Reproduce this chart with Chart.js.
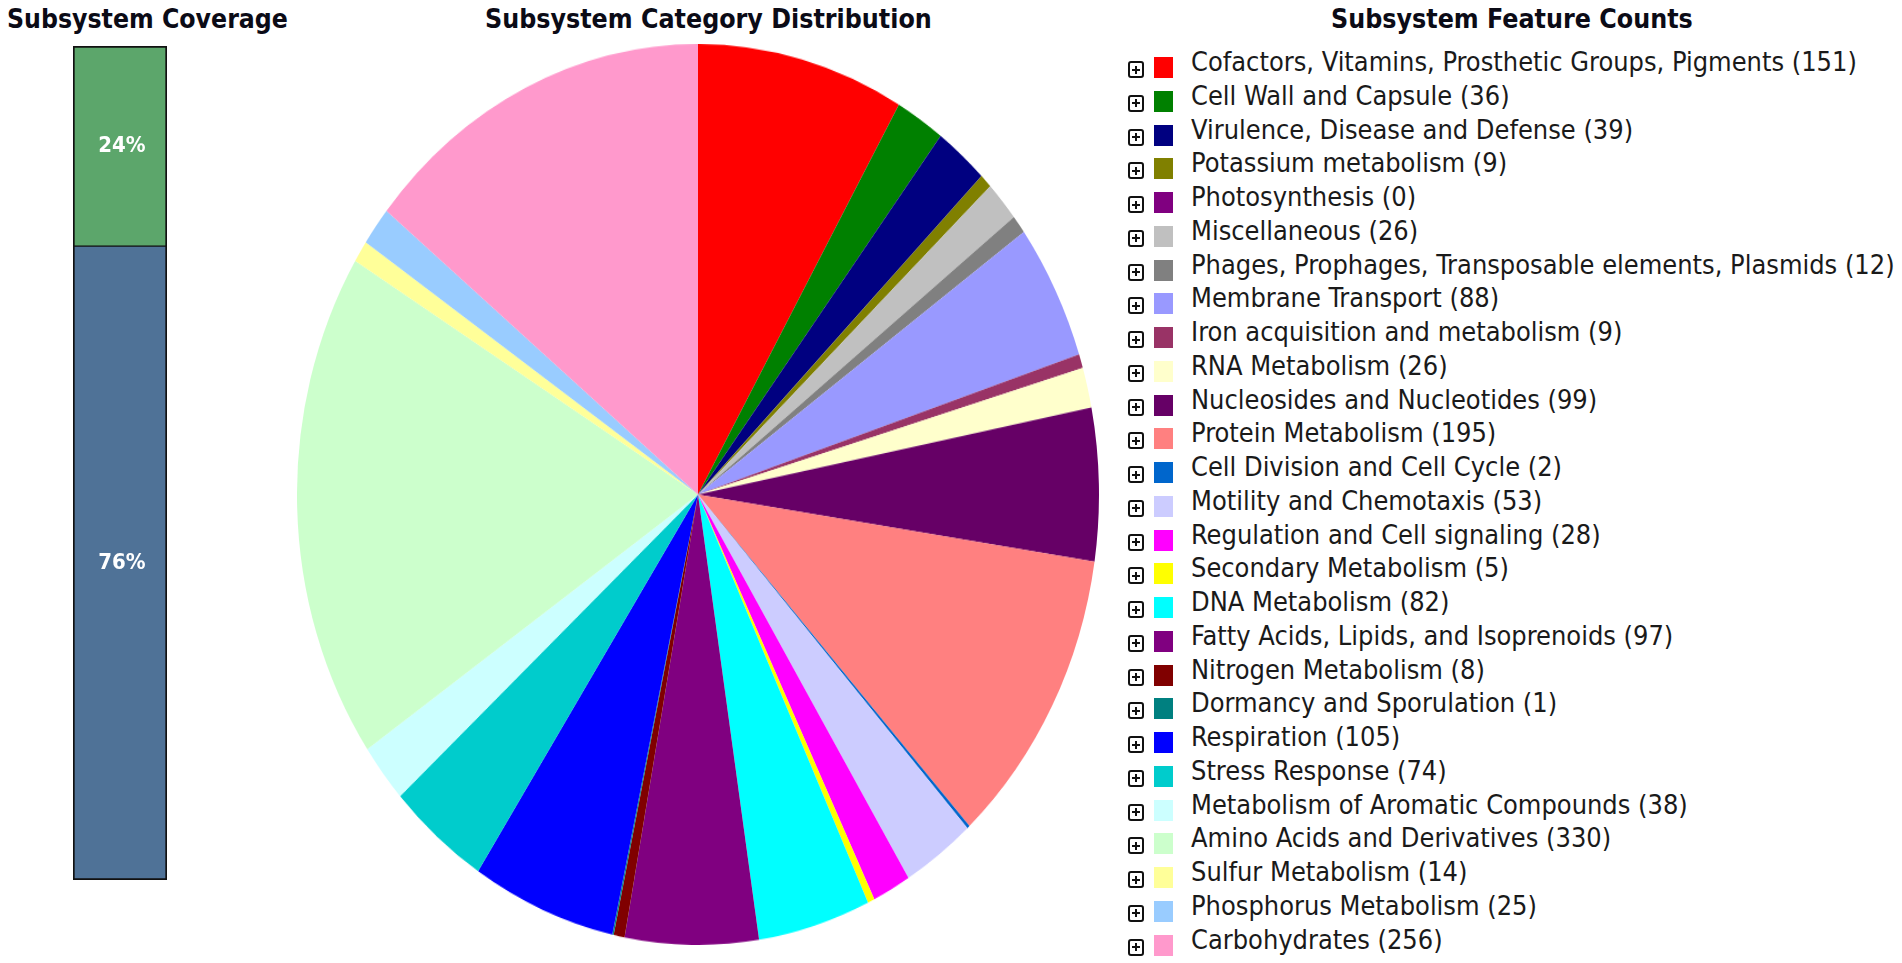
<!DOCTYPE html>
<html>
<head>
<meta charset="utf-8">
<script src="https://cdn.jsdelivr.net/npm/chart.js@4.4.1/dist/chart.umd.min.js"></script>
<style>
  html, body { margin:0; padding:0; background:#fff; width:1902px; height:963px; overflow:hidden; }
  .title { position:absolute; top:0; height:38px; line-height:38px; white-space:nowrap;
           font-family:"DejaVu Sans Condensed","DejaVu Sans",sans-serif; font-weight:bold; color:#0b0b16; }
  .row { position:absolute; left:1128px; height:34px; width:770px; }
  .plus { position:absolute; left:0; top:15px; width:12px; height:13px; border:2px solid #111; border-radius:3px; }
  .plus::before { content:""; position:absolute; left:2px; top:5.5px; width:8px; height:2px; background:#111; }
  .plus::after { content:""; position:absolute; left:5px; top:2.5px; width:2px; height:8px; background:#111; }
  .sw { position:absolute; left:26px; top:11px; width:19px; height:21px; }
  .lt { position:absolute; left:63px; top:-1px; height:34px; line-height:34px; white-space:nowrap;
        font-family:"DejaVu Sans Condensed","DejaVu Sans",sans-serif; color:#1a1a1a; }
</style>
</head>
<body>
<div class="title" id="t1" style="left:7px">Subsystem Coverage</div>
<div class="title" id="t2" style="left:485px">Subsystem Category Distribution</div>
<div class="title" id="t3" style="left:1331px">Subsystem Feature Counts</div>
<canvas id="barCanvas" width="94" height="834" style="position:absolute;left:73px;top:46px;width:94px;height:834px;display:block;"></canvas>
<canvas id="pieCanvas" width="802" height="802" style="position:absolute;left:297px;top:44px;width:802px;height:901px;display:block;"></canvas>
<div id="legend"></div>
<script>
// ---------- data ----------
const categories = [
  "Cofactors, Vitamins, Prosthetic Groups, Pigments",
  "Cell Wall and Capsule",
  "Virulence, Disease and Defense",
  "Potassium metabolism",
  "Photosynthesis",
  "Miscellaneous",
  "Phages, Prophages, Transposable elements, Plasmids",
  "Membrane Transport",
  "Iron acquisition and metabolism",
  "RNA Metabolism",
  "Nucleosides and Nucleotides",
  "Protein Metabolism",
  "Cell Division and Cell Cycle",
  "Motility and Chemotaxis",
  "Regulation and Cell signaling",
  "Secondary Metabolism",
  "DNA Metabolism",
  "Fatty Acids, Lipids, and Isoprenoids",
  "Nitrogen Metabolism",
  "Dormancy and Sporulation",
  "Respiration",
  "Stress Response",
  "Metabolism of Aromatic Compounds",
  "Amino Acids and Derivatives",
  "Sulfur Metabolism",
  "Phosphorus Metabolism",
  "Carbohydrates"
];
const featureCounts = [151, 36, 39, 9, 0, 26, 12, 88, 9, 26, 99, 195, 2, 53, 28, 5, 82, 97, 8, 1, 105, 74, 38, 330, 14, 25, 256];
const sliceColors = [
  "#FF0000", "#008000", "#000080", "#808000", "#800080", "#C0C0C0", "#808080", "#9999FF", "#993366",
  "#FFFFCC", "#660066", "#FF8080", "#0066CC", "#CCCCFF", "#FF00FF", "#FFFF00", "#00FFFF", "#800080",
  "#800000", "#008080", "#0000FF", "#00CCCC", "#CCFFFF", "#CCFFCC", "#FFFF99", "#99CCFF", "#FF99CC"
];
const coverageLabels = ["Not in subsystems", "In subsystems"];
const coveragePercents = [76, 24];
const coverageColors = ["#4F7297", "#5CA66B"];

// ---------- helpers ----------
function fitWidth(el, target) {
  el.style.fontSize = "100px";
  const w = el.getBoundingClientRect().width;
  const size = 100 * target / w;
  el.style.fontSize = size + "px";
  return size;
}

// ---------- titles ----------
fitWidth(document.getElementById("t1"), 281);
fitWidth(document.getElementById("t2"), 447);
fitWidth(document.getElementById("t3"), 362);

// ---------- legend ----------
const legend = document.getElementById("legend");
const rowTexts = [];
categories.forEach((name, i) => {
  const row = document.createElement("div");
  row.className = "row";
  row.style.top = (46 + i * 33.75) + "px";
  const plus = document.createElement("div"); plus.className = "plus";
  const sw = document.createElement("div"); sw.className = "sw"; sw.style.background = sliceColors[i];
  const lt = document.createElement("span"); lt.className = "lt";
  lt.textContent = name + " (" + featureCounts[i] + ")";
  row.appendChild(plus); row.appendChild(sw); row.appendChild(lt);
  legend.appendChild(row);
  rowTexts.push(lt);
});
const legendSize = fitWidth(rowTexts[6], 704);
rowTexts.forEach(t => t.style.fontSize = legendSize + "px");

// ---------- coverage bar ----------
const barLabelPlugin = {
  id: "barLabels",
  afterDatasetsDraw(chart) {
    const ctx = chart.ctx;
    ctx.save();
    ctx.fillStyle = "#ffffff";
    ctx.font = "bold 22px 'DejaVu Sans Condensed', 'DejaVu Sans', sans-serif";
    ctx.textAlign = "center";
    ctx.textBaseline = "middle";
    chart.data.datasets.forEach((ds, i) => {
      const el = chart.getDatasetMeta(i).data[0];
      const p = el.getProps(["x", "y", "base"], true);
      ctx.fillText(ds.data[0] + "%", p.x + 2, (p.y + p.base) / 2);
    });
    ctx.restore();
  }
};
new Chart(document.getElementById("barCanvas"), {
  type: "bar",
  data: {
    labels: ["Coverage"],
    datasets: [
      { label: coverageLabels[0], data: [coveragePercents[0]], backgroundColor: coverageColors[0],
        borderColor: "#111", borderWidth: {top: 1, left: 2, right: 2, bottom: 2}, borderSkipped: false,
        barPercentage: 1, categoryPercentage: 1 },
      { label: coverageLabels[1], data: [coveragePercents[1]], backgroundColor: coverageColors[1],
        borderColor: "#111", borderWidth: {top: 2, left: 2, right: 2, bottom: 1}, borderSkipped: false,
        barPercentage: 1, categoryPercentage: 1 }
    ]
  },
  options: {
    responsive: false, animation: false, events: [],
    layout: { padding: 0 },
    plugins: { legend: { display: false }, tooltip: { enabled: false } },
    scales: {
      x: { stacked: true, display: false },
      y: { stacked: true, display: false, min: 0, max: 100 }
    }
  },
  plugins: [barLabelPlugin]
});

// ---------- pie ----------
new Chart(document.getElementById("pieCanvas"), {
  type: "pie",
  data: {
    labels: categories,
    datasets: [{ data: featureCounts, backgroundColor: sliceColors, borderWidth: 0 }]
  },
  options: {
    responsive: false, animation: false, events: [],
    layout: { padding: 0 },
    plugins: { legend: { display: false }, tooltip: { enabled: false } }
  }
});
</script>
</body>
</html>
